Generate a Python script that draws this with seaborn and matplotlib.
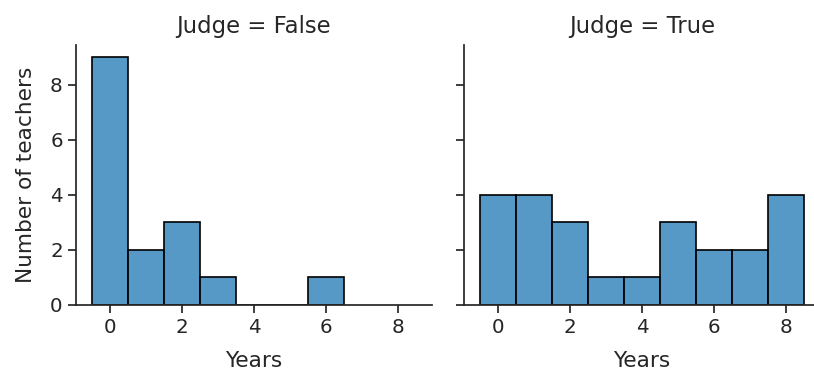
import numpy as np
import pandas as pd
import matplotlib
matplotlib.use("Agg")
import matplotlib.pyplot as plt
import seaborn as sns

years = [0, 1, 2, 3, 4, 5, 6, 7, 8]
counts_false = [9, 2, 3, 1, 0, 0, 1, 0, 0]
counts_true = [4, 4, 3, 1, 1, 3, 2, 2, 4]

df = pd.DataFrame({
    "Years": np.concatenate([np.repeat(years, counts_false), np.repeat(years, counts_true)]),
    "Judge": [False] * sum(counts_false) + [True] * sum(counts_true),
})

sns.set_theme(style="ticks", context="notebook", font_scale=1.3)

g = sns.FacetGrid(df, col="Judge", height=3.74, aspect=814 / 2 / 374, sharex=True, sharey=True)
g.map_dataframe(sns.histplot, x="Years", discrete=True, color="#1f77b4",
                edgecolor="black", linewidth=1.2)
g.set_titles("Judge = {col_name}", size=16.4, pad=9)
g.set(xticks=[0, 2, 4, 6, 8], yticks=[0, 2, 4, 6, 8])
fig = g.figure
fig.set_size_inches(8.14, 3.74)
ax1, ax2 = g.axes.flat
for ax in (ax1, ax2):
    ax.set_xlabel("Years", labelpad=10)
ax1.set_ylabel("Number of teachers", labelpad=10)
ax2.set_ylabel("")
ax1.set_xlim(-0.95, 8.95)
ax1.set_position([76 / 814, 69 / 374, 356 / 814, 260 / 374])
ax2.set_position([464 / 814, 69 / 374, 356 / 814, 260 / 374])
fig.savefig("out.png", dpi=100)
